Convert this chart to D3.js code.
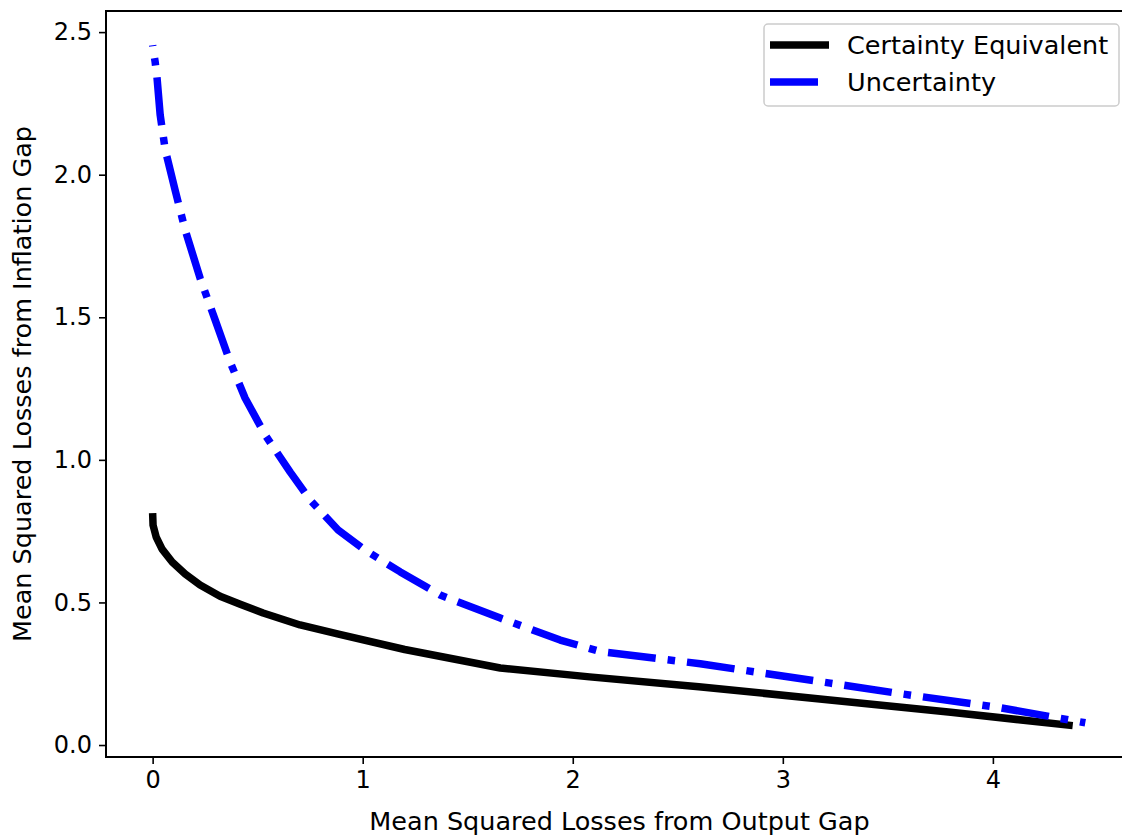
<!DOCTYPE html>
<html>
<head>
<meta charset="utf-8">
<script src="https://cdn.jsdelivr.net/npm/d3@7"></script>
<style>
  body { margin: 0; background: #fff; }
  text { font-family: "DejaVu Sans", sans-serif; fill: #000; }
</style>
</head>
<body>
<svg id="chart" width="1122" height="835"></svg>
<script>
// values
const certX = [0.0, 0.002, 0.017, 0.045, 0.093, 0.155, 0.226, 0.321, 0.417, 0.526, 0.702, 0.885, 1.2, 1.655, 2.08, 2.6, 3.2, 3.8, 4.38];
const certY = [0.813, 0.771, 0.729, 0.687, 0.642, 0.600, 0.561, 0.522, 0.494, 0.463, 0.421, 0.389, 0.335, 0.27, 0.239, 0.204, 0.16, 0.115, 0.068];

const uncX = [0.0, 0.012, 0.021, 0.036, 0.06, 0.107, 0.155, 0.226, 0.298, 0.369, 0.44, 0.536, 0.655, 0.75, 0.883, 1.01, 1.179, 1.369, 1.655, 1.94, 2.131, 2.607, 3.226, 3.56, 4.04, 4.44];
const uncY = [2.454, 2.395, 2.339, 2.209, 2.087, 1.946, 1.806, 1.637, 1.49, 1.343, 1.217, 1.087, 0.957, 0.859, 0.754, 0.684, 0.607, 0.526, 0.445, 0.368, 0.328, 0.285, 0.217, 0.18, 0.13, 0.078];

const xTicks = [0, 1, 2, 3, 4];
const yTicks = [0.0, 0.5, 1.0, 1.5, 2.0, 2.5];
const seriesNames = ['Certainty Equivalent', 'Uncertainty'];

const svg = d3.select('#chart');
const margin = {left: 106, top: 11, right: 1133, bottom: 757};
const lw = 7.5;
const dashdot = [6.4 * lw, 1.6 * lw, 1.0 * lw, 1.6 * lw].join(',');

const x = d3.scaleLinear().domain([-0.222, 4.667]).range([margin.left, margin.right]);
const y = d3.scaleLinear().domain([-0.042, 2.574]).range([margin.bottom, margin.top]);

const series = [
  {name: seriesNames[0], color: '#000', dash: null, offset: 0, pts: certX.map((d, i) => [d, certY[i]])},
  {name: seriesNames[1], color: '#0000ff', dash: dashdot, offset: 47, pts: uncX.map((d, i) => [d, uncY[i]])}
];

svg.append('defs').append('clipPath').attr('id', 'clip')
  .append('rect')
    .attr('x', margin.left).attr('y', margin.top)
    .attr('width', margin.right - margin.left).attr('height', margin.bottom - margin.top);

const line = d3.line().x(d => x(d[0])).y(d => y(d[1]));

svg.append('g').attr('clip-path', 'url(#clip)')
  .selectAll('path')
  .data(series)
  .enter().append('path')
    .attr('d', d => line(d.pts))
    .attr('fill', 'none')
    .attr('stroke', d => d.color)
    .attr('stroke-width', lw)
    .attr('stroke-dasharray', d => d.dash)
    .attr('stroke-dashoffset', d => d.offset)
    .attr('stroke-linejoin', 'round');

// axes
const xAxis = svg.append('g')
  .attr('transform', `translate(0,${margin.bottom})`)
  .call(d3.axisBottom(x).tickValues(xTicks).tickFormat(d3.format('d')).tickSizeOuter(0).tickSize(7).tickPadding(7));
const yAxis = svg.append('g')
  .attr('transform', `translate(${margin.left},0)`)
  .call(d3.axisLeft(y).tickValues(yTicks).tickFormat(d3.format('.1f')).tickSizeOuter(0).tickSize(7).tickPadding(7));

[xAxis, yAxis].forEach(a => {
  a.select('.domain').remove();
  a.selectAll('line').attr('stroke', '#000').attr('stroke-width', 1.6);
  a.selectAll('text').style('font-size', '24px').style('font-family', '"DejaVu Sans", sans-serif');
});

// spines
svg.append('rect')
  .attr('x', margin.left).attr('y', margin.top)
  .attr('width', margin.right - margin.left).attr('height', margin.bottom - margin.top)
  .attr('fill', 'none').attr('stroke', '#000').attr('stroke-width', 2);

// labels
svg.append('text')
  .attr('x', (margin.left + margin.right) / 2).attr('y', 830)
  .attr('text-anchor', 'middle').style('font-size', '25.5px')
  .text('Mean Squared Losses from Output Gap');
svg.append('text')
  .attr('transform', `translate(31,${(margin.top + margin.bottom) / 2}) rotate(-90)`)
  .attr('text-anchor', 'middle').style('font-size', '25.5px')
  .text('Mean Squared Losses from Inflation Gap');

// legend
const lg = svg.append('g').attr('transform', 'translate(764,24)');
lg.append('rect')
  .attr('width', 355).attr('height', 82).attr('rx', 4)
  .attr('fill', '#fff').attr('fill-opacity', 0.8)
  .attr('stroke', '#ccc').attr('stroke-width', 1.5);
const item = lg.selectAll('g.item').data(series).enter().append('g')
  .attr('class', 'item')
  .attr('transform', (d, i) => `translate(0,${21 + i * 37})`);
item.append('line')
  .attr('x1', 6).attr('x2', 65)
  .attr('stroke', d => d.color).attr('stroke-width', lw)
  .attr('stroke-dasharray', d => d.dash);
item.append('text')
  .attr('x', 83).attr('dy', '0.35em')
  .style('font-size', '25.5px')
  .text(d => d.name);
</script>
</body>
</html>
